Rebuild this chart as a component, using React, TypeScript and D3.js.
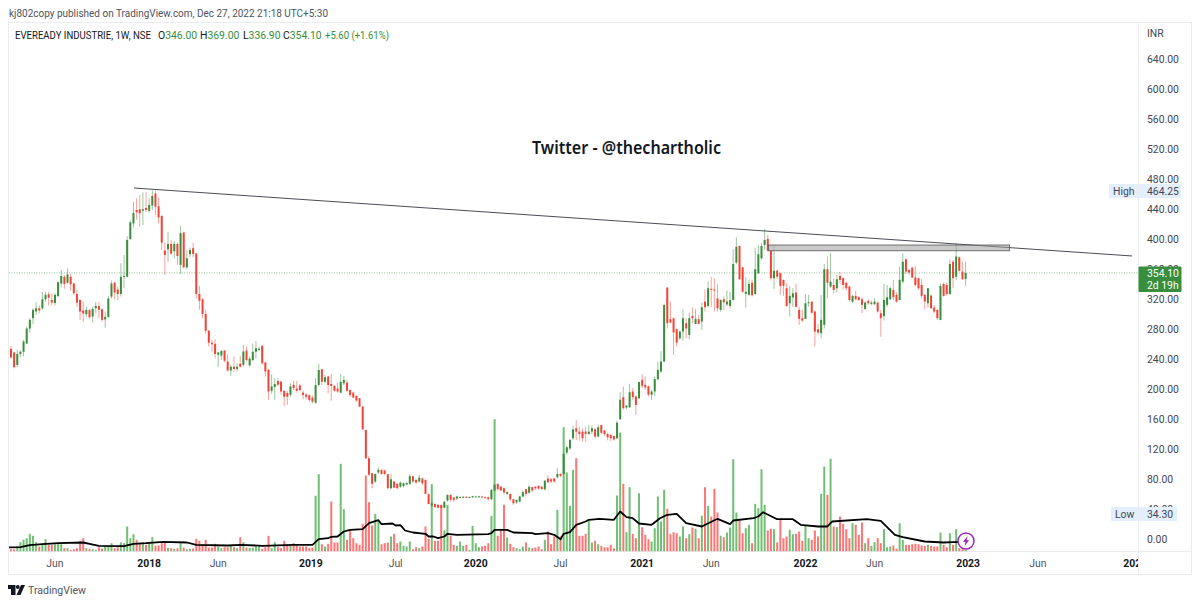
import React from "react";
import * as d3 from "d3";

const opens = [
252.7,248,231.5,246,249,260,280,293.7,302.6,307,
307,319,325.6,318,314,323,340,349,341,349,
340,326,318,304,299,304.8,296,307,310,305.7,
292,295.5,322.6,341,332,326,349,349,399,420,
438,439,437,440.7,437,444,460,443,430,384,
385.6,392.7,383,392.7,364.8,408,361.6,379,387,380,
326,319,299.5,277,261,259.5,245,244,250.6,236,
224,229,226,233,231.6,250.6,231,238,249,251.5,
257,234.7,225,197,202,210,209,197,194,191.6,
205,200,204,194.5,192,191,188,181,204.7,225.6,
209,216,206,203.4,200,194.5,207,207.8,198,194.5,
190,187,176,144.7,107,87,76,88,91.5,90.6,
85.7,67,76,72.8,69,70,72,72.8,83,78,
76,80,78,59,44,46,45,44,41,50.6,
58,54.6,53.3,55,55,55.5,54.8,55,55,55.5,
56,55,55,52.4,64,72.8,69,67,59.5,59.5,
52.4,48,49.3,56,65.7,61,68.4,69,70,69,
65.7,80,79,80,81.7,86,86,114.6,120,133.7,
147,142.5,142.5,142.5,139.4,142.5,145.6,135.9,151.3,143.7,
139.3,138,136.7,133.6,159,188.5,174.6,175,196,189.4,
187,211.6,204.9,202.7,191.6,196,212.5,222.7,236,334.6,
292.4,293.7,279,267,276,287,271.5,296.8,286,292.4,
289.3,315.9,310,332.8,332,320,304.8,319,312,310,
318,367.9,390,361.6,326,325,341,326,353.7,373.6,
391.4,399.4,383.8,347,357,353.7,344.8,333.7,313.7,321.5,
328,304.8,293.7,292.8,313.7,315.9,302.6,279,273.7,284.8,
359,335.9,338,333.7,350,347,341,335.9,315.9,323.5,
321.7,319,306,316.8,312.8,312.3,314.6,300.4,296.8,311.5,
319,331.5,324.8,318,342.5,372.3,358,361.2,348,347,
338,324.8,313.7,323.9,308,304.8,291.5,339.4,338,326,
369,349,375,355.9,346];

const closes = [
241.3,228.5,246,249,262.6,280,291.5,304.8,307,304,
319,325,321,314.6,325,341.7,350,339.4,352,339,
327,314.6,302.6,300,304.8,295,306,310,305,291.5,
295.5,320,340,328,326,349,350,398,421.6,434,
435,433.6,439,438,444.7,456.7,442.5,428,394.5,378,
392.7,380,392.7,376.7,407,361.6,373.6,384.7,379.4,326,
317,299.5,277,261,259,246,248,250,237,224,
229,226,229,229,249.3,238,240,249,253.7,253,
233.7,222.7,196,202.7,206,205,196,189,189,202.7,
200.5,197,198,191.4,189,184.7,182.5,204.7,224.7,209,
215,204.7,203.4,197,196,209,211.4,197,191.4,188,
184,176,145.6,107,85,72.8,86,91.5,86,86,
67,79,68,67,74.6,73.7,74,83,76,74.6,
81,73.7,59.5,46,47,41.7,41,41,49,58,
51.5,51.5,56,55.5,55.8,54.8,55.5,56.5,56,56.3,
55,54.5,52.4,64.8,71.5,65.7,64,61.3,62,52.4,
47,51.5,56,61.7,59.5,69,64,67,66.6,66,
77,75,76,76,86,83.5,112.8,121.7,131.4,145.6,
142.5,139.4,133.7,139.4,142.5,147,135.9,148.3,141,139.3,
135,133.6,132,154.4,185,173.8,177,195,188.5,178,
208.5,203.6,201.4,191.6,196,212.5,224.9,236,311.5,287,
288,274.6,261.3,276,293.7,280,293.7,293.7,292.8,286,
308.4,308.4,333.7,331.9,331,307,318,315,316,318,
366,389,345.7,329,329,339.4,324.4,359,379,390,
398,383.8,347,357,349,336.8,337,310,323.5,327,
309,292.8,290.6,313.7,315,301,276,274.6,291.5,359,
341,342.5,331.5,345.7,344.8,338,333.7,318,323.5,319,
318,311.5,314.6,313.7,314.6,315.9,302.6,293.7,318,321.7,
333.7,321.7,315.9,344.8,369,355.9,354.5,347.9,338,333.7,
323.5,315.9,333.7,307,302.6,293.7,336.8,323.5,326,366,
347,375.9,357,345.7,354.1];

const highs = [
257,249,251.5,251,265,282.6,293.7,307,315,311,
329,329,329,327,327,342.5,358,351,360,353,
341,332,319,316,309,305.7,309,315,315,307,
302.6,323.5,343.9,342.5,336,367,378,403,424,449,
453.6,458,461.6,462.4,453.6,464.25,464,455,431,394.5,
409,398,397,394.5,416.7,409,384.7,388,394.5,381,
337,320,305,278,265,265.7,249,251.5,251.5,245.8,
231.6,242.7,233.7,243.6,258,256,242.7,260,263.5,256,
257.5,236,226,219,214,214,210.7,197,196.5,207,
211,210,206,197,193.6,192,191,213.6,232.7,226,
218,216.7,219,204.7,207.8,219,216.7,212,199,195.8,
191.4,187,177,145,110,87,87,94.6,92,92,
86,86,77,74,76,74.6,75,86,84,79.5,
84.7,81.5,79,60,49,47,45.5,45,50,59,
59,55.5,57,56,56.5,56.5,56,57,57,57,
57,56,56,66,73,73.5,70,68,63,60,
53,52,57,64,66,71,69,70,71,70,
78,84,81,81,94,87,114,123,133,150,
158,149,147,149,151.4,150.5,147,151.4,151.5,145,
141,139,137,157,195,202.7,178,206,200.5,190.7,
209.4,219,216,204,198,216,236,250,312,335,
316,294,280,277,305.7,293.7,301,308,305.7,298,
314.6,332,342.5,349,347,339,319,322.6,330.6,329,
385.6,401.6,391,362,348,344.8,344.8,387,391.4,393.6,
412.3,404.7,384.7,390,359,354.5,345,340,336.8,333.7,
340,309,304.8,326,324.8,316,304,286,324.8,366,
376,381,347,351.4,355,348,342.5,337,325,330,
323,321.7,315.9,319,317,320,315.9,304.8,339.4,338,
336,344.8,328,362.5,380,373.6,360,362,363,348,
345.7,326,334,325,311.5,305.7,340,341,341,372,
371.4,393.6,376,369,369];

const lows = [
240,227,228.5,242,243,259,274.6,285.7,298,300,
305,316,310.6,311,311,322.6,335,333,340,330.6,
325,309,291.5,289,295,293,288,300,293.7,289,
281,293.7,320,319,318,322.6,333.7,348,399,415,
425,415.8,418,435,434.5,438,431.3,420,385,351.4,
369,378,373.6,364.8,352.8,360,359,375,375,320,
305,293.7,273.7,256,249,240,229,238,235,222.7,
217,222.7,222.7,228,229.3,236,229,236,240,250,
232,216,185,193,185,202.7,191.6,176,178,189,
198,194.7,196,185.6,185.6,182.5,180,180,202.5,204.7,
207,193.6,183.8,195.8,194.5,193.6,204.7,195.8,189,187,
182.5,175,145,106,83.5,67,74,86,85,85,
66.5,65.7,67,66,67.5,68,71,71.5,74,73,
74.6,71,59,45.5,42.5,41,40,40,40,49,
49,49,51.5,54,53.5,54,54,54,55,54.5,
54,54,50.5,51,63,64,63,59,58,50,
45,46,48,55,57,60,62,65,65,65,
64,74,74,74.5,80,82,85,112,118,131.4,
131.4,130.5,129,129,138,139.4,133.7,135,139,137,
131,130,130.5,132,158,171.6,172.5,174,185,165,
185.8,200.5,198,189.4,185,190,210.7,221,235,280,
287,245,256,265,264,267,265.7,287,285.7,286,
278,302.6,308,309,302.6,302.6,302.6,304.8,310,307,
316.8,365.6,345,327.7,308,323.5,322.6,324.8,352.8,371.4,
384.7,382.5,343.9,332.8,345.7,324.8,323.5,309,296,309,
308,284.8,289,292.4,309,300,256,271.5,267,280,
320,333.7,327,327.9,340,332,330.6,316,314,318,
317,300.4,305,311.5,311,311.5,301,269,290.6,309,
318,318,314.6,317.5,340,352.8,352,347,335.9,332,
320,305.7,308,306,300.4,291.5,291,322.6,324,324.8,
333.7,344.8,356,345,336.9];

const volumes = [
2.3,2.3,5.7,9.3,11.7,13.3,17.7,15.7,9.3,5,
6.7,12.3,6.7,6.7,7.3,8.3,7.3,3.3,3.3,1.7,
2.3,3.3,10.7,13.3,3.3,2.7,2.3,1.7,4.3,3,
5.7,5.7,8.3,3.3,4.3,9,8.3,25,13.3,17.3,
11.7,7.7,9.3,6.7,9.3,14.3,5.7,6,8.3,10,
3.7,3.3,2.7,3.3,8.3,4,2.3,2.7,3,12.7,
10.7,7.3,11.7,4,4,7.7,5,3.3,4.3,4.3,
5.7,4.3,3.3,14.3,9.3,4,3.7,3.7,6,5,
2.7,4.3,15.7,3.3,9.3,4.3,3.3,10.7,5.7,6,
8.3,6,5,5,5,3.3,4,55.7,77.3,7.3,
5,7.7,50,9,9,87.7,42.3,11.7,21,13.3,
8.3,6.7,27.7,76,49.3,26,37.7,31.7,7.3,8.3,
9,15,17.7,8.3,10,5.7,5,10,2.3,4.3,
3.3,5,25,12.7,67.3,10.7,10.7,46.7,21,46.7,
15.7,6.7,5.7,10,5.7,6.7,1.7,25.7,8.3,4.3,
5,5.7,8.3,35.7,132.3,15.7,21,46.7,14,7.7,
4.3,3.3,2.3,5,9,4,3.3,4,5,2.3,
11.7,20,7.3,15,41.7,15,124.3,79,45.7,81.7,
93.3,15.7,15.7,17.7,30.7,9,10.7,7.3,5.7,4.3,
4.3,6.7,3.3,56,119,67.7,19.3,64.3,17.7,13.3,
58.3,24.3,16.7,12.3,10,23.3,55,30,61.7,42.7,
17.3,19.3,18.3,15,25,13.3,17.3,24,22.7,13.3,
35.7,64.3,45.7,35,62.7,39,15.7,14.3,19,24,
92.3,39,31,18.3,23.3,26.7,8.3,47.7,43.3,82.3,
46.7,21,22.7,22.3,9,31.7,13.3,15,21.7,17.3,
17.7,20,10.7,25.7,13.3,11.7,21,15,57.7,85,
56.7,92.7,25,24.3,35,27.7,22.3,13.3,28.3,26.7,
16.7,29,8.3,13.3,5.7,9.3,13.3,8.3,22.3,4.3,
5,6,2.7,28.3,11.7,6.7,6.7,7.3,7.7,7.3,
6,5.7,6.7,5.7,5,5,19,6.7,4.3,18.3,
6.7,22.3,3.3,2.3,1.7];

const maWeeks = [-1,3,6,10,15,23,25,28,36,39,43,48.5,56,59,69,73,80,90,96,98,101,102,104,106,108,112,114,117,118,121.5,122.5,124,125.5,128,132,133,134.5,136,138,139,142,152,153,154,158,160,166,167,171,173,175,176,178,180,183,184,187.5,192,194,196,198,200,204,206.7,209,212,215,220,225,229,230,236.5,238,239.5,244,249,251.5,257,260,261.5,272.5,277,281.5,284,291,297,300,304];
const maValues = [4,4.3,6.3,7.3,8.3,9,7.7,5.7,5.3,7.7,8.3,9.7,9,6.7,6,6.7,5.7,6.7,6.7,12.3,13.3,14.7,15,20,21.7,22.3,28.3,31.3,27.3,28,26,26.3,21,19,17.7,15,15,13.3,15,17.7,16.7,17.3,18.3,21.7,21.7,19,18.3,17.3,18.3,16.7,12.3,17.7,19.3,26.7,30,31.7,32.7,31.7,40,34.3,33.3,28,26.7,33.3,36.7,37.7,28.3,25,32.7,27.3,31,33.3,35,39.3,32.3,32.3,26.7,25,25,30,32.3,30.7,16.7,14.3,10,9,9.3,9.5];

const priceTicks = [0,40,80,120,160,200,240,280,320,360,400,440,480,520,560,600,640];
const timeLabels = ["Jun","2018","Jun","2019","Jul","2020","Jul","2021","Jun","2022","Jun","2023","Jun","2024"];
const timeWeeks = [14,44,66,95.5,122.5,148,175,201,223,253,275,304.8,327,358];
const trendWeeks = [39.2,357];
const trendPrices = [467.3,376.7];
const zoneWeeks = [241.2,318];
const zonePrices = [391.3,383.7];

const FONT = "Roboto, sans-serif";
const x = d3.scaleLinear().domain([0, 304]).range([11, 965.6]);
const yP = d3.scaleLinear().domain([0, 640]).range([538.5, 58.5]);
const yV = d3.scaleLinear().domain([0, 160]).range([551.5, 391.5]);
const GREEN = "#388e3c";
const RED = "#f44336";
const AXIS = 10.4;
const isUp = (i: number) => closes[i] >= opens[i];

export default function App() {
  const maLine = d3.line<number>().x((_, i) => x(maWeeks[i])).y((v) => yV(v)).curve(d3.curveLinear)(maValues) as string;
  const last = closes[closes.length - 1];
  const lastY = yP(last);
  return (
    <svg width={1200} height={604} style={{ position: "fixed", left: 0, top: 0, display: "block", background: "#fff" }} fontFamily={FONT}>
      <defs>
        <clipPath id="pane"><rect x={9} y={23} width={1129} height={528.5} /></clipPath>
        <clipPath id="timeaxis"><rect x={9} y={552} width={1129} height={22} /></clipPath>
      </defs>
      <text x={9} y={17} fontSize={10.6} fill="#50535e" textLength={319} lengthAdjust="spacingAndGlyphs">kj802copy published on TradingView.com, Dec 27, 2022 21:18 UTC+5:30</text>

      <rect x={8.5} y={22.5} width={1183} height={552} fill="#fff" stroke="#eaecf2" />
      <line x1={1138.5} x2={1138.5} y1={23} y2={574} stroke="#eaecf2" />
      <line x1={9} x2={1191} y1={551.5} y2={551.5} stroke="#eaecf2" />

      <g clipPath="url(#pane)">
        <g>
          {volumes.map((v, i) => (
            <rect key={i} x={x(i) - 1} width={2} y={yV(v)} height={yV(0) - yV(v)} fill={isUp(i) ? "#4caf50" : "#ff5252"} fillOpacity={0.8} />
          ))}
        </g>
        <line x1={9} x2={1138} y1={lastY} y2={lastY} stroke={GREEN} strokeOpacity={0.55} strokeDasharray="1 1.5" />
        <g>
          {opens.map((o, i) => {
            const c = closes[i];
            const col = isUp(i) ? GREEN : RED;
            const top = yP(Math.max(o, c));
            const h = Math.max(1, yP(Math.min(o, c)) - top);
            return (
              <g key={i}>
                <line x1={x(i)} x2={x(i)} y1={yP(highs[i])} y2={yP(lows[i])} stroke={col} strokeOpacity={0.5} strokeWidth={1} />
                <rect x={x(i) - 1} width={2} y={top} height={h} fill={col} />
              </g>
            );
          })}
        </g>
        <path d={maLine} fill="none" stroke="#000" strokeWidth={1.8} strokeLinejoin="round" />
        <line x1={x(trendWeeks[0])} y1={yP(trendPrices[0])} x2={x(trendWeeks[1])} y2={yP(trendPrices[1])} stroke="#2a2e39" strokeOpacity={0.85} strokeWidth={1} />
        <rect x={x(zoneWeeks[0])} y={yP(zonePrices[0])} width={x(zoneWeeks[1]) - x(zoneWeeks[0])} height={yP(zonePrices[1]) - yP(zonePrices[0])} fill="#9e9e9e" fillOpacity={0.55} stroke="#555" strokeOpacity={0.8} strokeWidth={1} />
        <text x={626.5} y={154} textAnchor="middle" fontSize={17.4} fontWeight={600} fill="#131722" style={{ fontFamily: "'Noto Sans', sans-serif" }} textLength={189} lengthAdjust="spacingAndGlyphs">Twitter - @thechartholic</text>
        <circle cx={x(304) + 0.4} cy={541} r={8} fill="#fff" stroke="#9c27b0" strokeWidth={1.5} />
        <path d="M967.6 536 L963 541.8 L965.6 541.8 L964.6 546 L969.2 540.2 L966.6 540.2 Z" fill="#9c27b0" />
      </g>

      <text x={15} y={39} fontSize={AXIS} fill="#131722" textLength={136} lengthAdjust="spacingAndGlyphs">EVEREADY INDUSTRIE, 1W, NSE</text>
      <text x={158} y={39} fontSize={AXIS} fill="#131722">O<tspan fill={GREEN}>346.00</tspan></text>
      <text x={200} y={39} fontSize={AXIS} fill="#131722">H<tspan fill={GREEN}>369.00</tspan></text>
      <text x={243} y={39} fontSize={AXIS} fill="#131722">L<tspan fill={GREEN}>336.90</tspan></text>
      <text x={283} y={39} fontSize={AXIS} fill="#131722">C<tspan fill={GREEN}>354.10</tspan></text>
      <text x={325} y={39} fontSize={AXIS} fill={GREEN} textLength={64} lengthAdjust="spacingAndGlyphs">+5.60 (+1.61%)</text>

      <text x={1147} y={37} fontSize={AXIS} fill="#434651">INR</text>
      {priceTicks.map((t) => (
        <text key={t} x={1147} y={yP(t) + 4} fontSize={AXIS} fill="#434651">{t.toFixed(2)}</text>
      ))}

      <rect x={1109} y={184} width={29} height={14} fill="#e3effd" />
      <rect x={1139} y={184} width={42} height={14} fill="#e3effd" />
      <text x={1113} y={195} fontSize={AXIS} fill="#434651">High</text>
      <text x={1147} y={195} fontSize={AXIS} fill="#434651">464.25</text>

      <rect x={1111} y={507} width={27} height={14} fill="#e3effd" />
      <rect x={1139} y={507} width={38} height={14} fill="#e3effd" />
      <text x={1115} y={518} fontSize={AXIS} fill="#434651">Low</text>
      <text x={1147} y={518} fontSize={AXIS} fill="#434651">34.30</text>

      <rect x={1138.5} y={266.5} width={43} height={25.5} rx={1} fill={GREEN} />
      <text x={1147} y={277} fontSize={AXIS} fill="#fff">{last.toFixed(2)}</text>
      <text x={1147} y={289} fontSize={AXIS} fill="#fff">2d 19h</text>

      <g clipPath="url(#timeaxis)">
        {timeLabels.map((l, i) => {
          const bold = /^\d/.test(l);
          return (
            <text key={i} x={x(timeWeeks[i])} y={567} textAnchor="middle" fontSize={AXIS} fontWeight={bold ? 700 : 400} fill={bold ? "#131722" : "#50535e"}>{l}</text>
          );
        })}
      </g>

      <g fill="#131722">
        <path d="M8 585 H15.5 V595 H11 V589 H8 Z" />
        <circle cx={17.8} cy={587} r={1.9} />
        <path d="M21 585 H25 L20.5 595 H16.5 Z" />
      </g>
      <text x={28} y={594} fontSize={11} fill="#50535e" textLength={58} lengthAdjust="spacingAndGlyphs">TradingView</text>
    </svg>
  );
}
